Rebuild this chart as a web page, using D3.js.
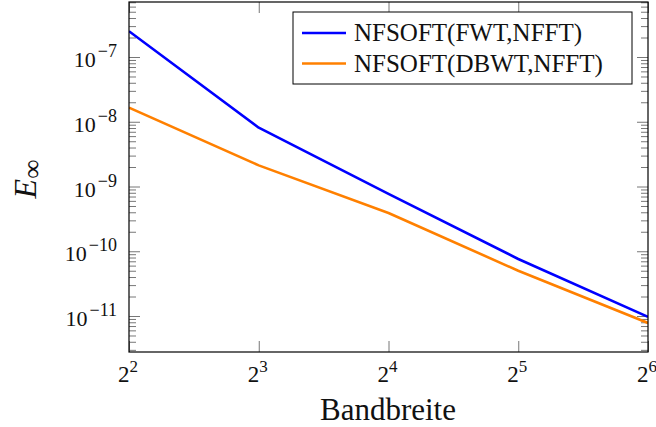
<!DOCTYPE html>
<html>
<head>
<meta charset="utf-8">
<script src="https://cdn.jsdelivr.net/npm/d3@7"></script>
<style>
  body { margin: 0; background: #fff; }
  svg text { font-family: "Liberation Serif", "Times New Roman", serif; }
</style>
</head>
<body>
<div id="chart"></div>
<script>
// data
const bandwidths = [4, 8, 16, 32, 64];
const xExponents = [2, 3, 4, 5, 6];
const yExponents = [-11, -10, -9, -8, -7];
const errFWT  = [2.5e-7, 8.1e-9, 7.7e-10, 7.6e-11, 9.7e-12];
const errDBWT = [1.65e-8, 2.12e-9, 3.9e-10, 5.0e-11, 7.8e-12];
const seriesNames = ["NFSOFT(FWT,NFFT)", "NFSOFT(DBWT,NFFT)"];
const seriesColors = ["#0000ff", "#ff8000"];

const W = 656, H = 427;
const plot = { left: 129, right: 648, top: 2, bottom: 352 };

const svg = d3.select("#chart").append("svg")
    .attr("width", W)
    .attr("height", H);

const x = d3.scaleLog().base(2)
    .domain([4, 64])
    .range([plot.left, plot.right]);

const y = d3.scaleLog()
    .domain([2.78e-12, 7.07e-7])
    .range([plot.bottom, plot.top]);

// minor tick values 2..9 x 10^k inside the domain
const minorY = [];
for (let k = -12; k <= -6; k++) {
    for (let m = 2; m <= 9; m++) {
        const v = m * Math.pow(10, k);
        if (v >= y.domain()[0] && v <= y.domain()[1]) minorY.push(v);
    }
}
const majorY = yExponents.map(e => Math.pow(10, e));

const tickColor = "#777";

function styleTicks(g) {
    g.select(".domain").remove();
    g.selectAll("line").attr("stroke", tickColor).attr("stroke-width", 1);
    g.selectAll("text").remove();
}

// y ticks, left and right, pointing inward
svg.append("g")
    .attr("transform", `translate(${plot.left},0)`)
    .call(d3.axisLeft(y).tickValues(minorY).tickSize(-7))
    .call(styleTicks);
svg.append("g")
    .attr("transform", `translate(${plot.left},0)`)
    .call(d3.axisLeft(y).tickValues(majorY).tickSize(-11))
    .call(styleTicks);
svg.append("g")
    .attr("transform", `translate(${plot.right},0)`)
    .call(d3.axisRight(y).tickValues(minorY).tickSize(-7))
    .call(styleTicks);
svg.append("g")
    .attr("transform", `translate(${plot.right},0)`)
    .call(d3.axisRight(y).tickValues(majorY).tickSize(-11))
    .call(styleTicks);

// x ticks, bottom and top
svg.append("g")
    .attr("transform", `translate(0,${plot.bottom})`)
    .call(d3.axisBottom(x).tickValues(bandwidths).tickSize(-11))
    .call(styleTicks);
svg.append("g")
    .attr("transform", `translate(0,${plot.top})`)
    .call(d3.axisTop(x).tickValues(bandwidths).tickSize(-11))
    .call(styleTicks);

// lines
const line = d3.line()
    .x((d, i) => x(bandwidths[i]))
    .y(d => y(d));

svg.append("defs").append("clipPath")
    .attr("id", "clip")
    .append("rect")
    .attr("x", plot.left)
    .attr("y", plot.top)
    .attr("width", plot.right - plot.left)
    .attr("height", plot.bottom - plot.top);

[errFWT, errDBWT].forEach((s, i) => {
    svg.append("path")
        .attr("d", line(s))
        .attr("clip-path", "url(#clip)")
        .attr("fill", "none")
        .attr("stroke", seriesColors[i])
        .attr("stroke-width", 2.6)
        .attr("stroke-linejoin", "round");
});

// frame
svg.append("rect")
    .attr("x", plot.left)
    .attr("y", plot.top)
    .attr("width", plot.right - plot.left)
    .attr("height", plot.bottom - plot.top)
    .attr("fill", "none")
    .attr("stroke", "#000")
    .attr("stroke-width", 1.2);

// y tick labels 10^k
yExponents.forEach(e => {
    const t = svg.append("text")
        .attr("x", 117)
        .attr("y", y(Math.pow(10, e)) + 10)
        .attr("text-anchor", "end")
        .attr("font-size", 22)
        .attr("fill", "#111");
    t.append("tspan").text("10");
    t.append("tspan").attr("dx", 2).attr("dy", -10).attr("font-size", 18).text("\u2212" + Math.abs(e));
});

// x tick labels 2^k
xExponents.forEach((e, i) => {
    const t = svg.append("text")
        .attr("x", x(bandwidths[i]) - 1)
        .attr("y", 382)
        .attr("text-anchor", "middle")
        .attr("font-size", 23)
        .attr("fill", "#111");
    t.append("tspan").text("2");
    t.append("tspan").attr("dy", -10).attr("font-size", 17).text(e);
});

// axis labels
svg.append("text")
    .attr("x", 388)
    .attr("y", 420)
    .attr("text-anchor", "middle")
    .attr("font-size", 31)
    .attr("fill", "#111")
    .text("Bandbreite");

const yl = svg.append("text")
    .attr("transform", "translate(36,179) rotate(-90)")
    .attr("text-anchor", "middle")
    .attr("font-size", 32)
    .attr("fill", "#111");
yl.append("tspan").attr("font-style", "italic").text("E");
yl.append("tspan").attr("dy", 5).attr("font-size", 27).text("\u221E");

// legend
const legend = svg.append("g");
legend.append("rect")
    .attr("x", 293)
    .attr("y", 12)
    .attr("width", 339)
    .attr("height", 72)
    .attr("fill", "#fff")
    .attr("stroke", "#000")
    .attr("stroke-width", 1);

seriesNames.forEach((name, i) => {
    const ly = 33 + i * 30.5;
    legend.append("line")
        .attr("x1", 302)
        .attr("x2", 346)
        .attr("y1", ly)
        .attr("y2", ly)
        .attr("stroke", seriesColors[i])
        .attr("stroke-width", 2.6);
    legend.append("text")
        .attr("x", 354)
        .attr("y", ly + 8)
        .attr("font-size", 25)
        .attr("fill", "#111")
        .text(name);
});
</script>
</body>
</html>
